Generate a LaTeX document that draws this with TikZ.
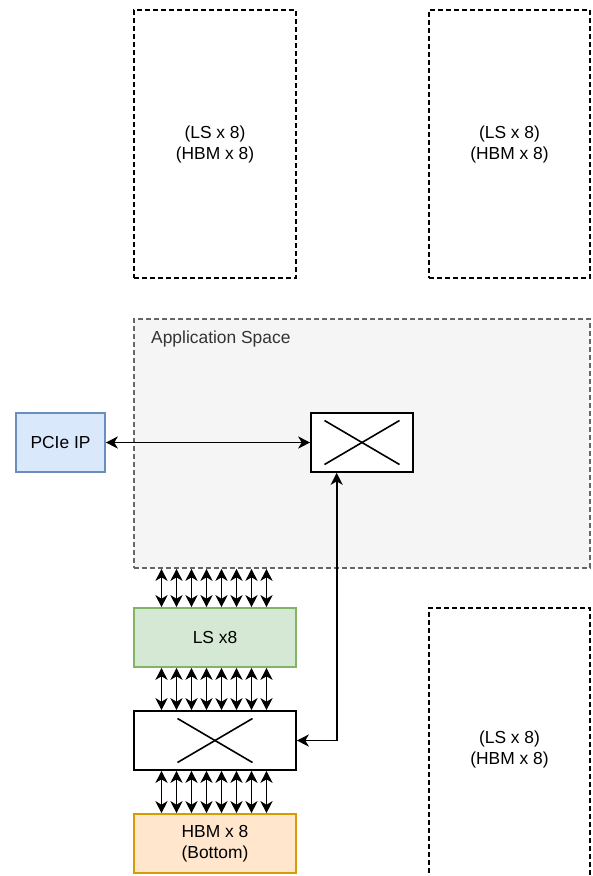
\documentclass[tikz,border=0pt]{standalone}
\usepackage{fontspec}
\setmainfont{Liberation Sans}
\usetikzlibrary{arrows.meta,calc}
\definecolor{appfill}{HTML}{F5F5F5}
\definecolor{appline}{HTML}{666666}
\definecolor{apptext}{HTML}{333333}
\definecolor{pciefill}{HTML}{DAE8FC}
\definecolor{pcieline}{HTML}{6C8EBF}
\definecolor{lsfill}{HTML}{D5E8D4}
\definecolor{lsline}{HTML}{82B366}
\definecolor{hbmfill}{HTML}{FFE6CC}
\definecolor{hbmline}{HTML}{D79B00}
\tikzset{
  box/.style={draw, line width=1.6pt, inner sep=0pt, align=center,
    font=\fontsize{17.4}{21}\selectfont},
  dashbox/.style={box, dash pattern=on 5pt off 3pt},
  biarrow/.style={line width=1.7pt,
    {Stealth[length=12pt,width=12pt,inset=3.5pt]}-{Stealth[length=12pt,width=12pt,inset=3.5pt]}},
  xline/.style={line width=1.6pt},
}
\begin{document}
\begin{tikzpicture}[x=1pt,y=-1pt]
\useasboundingbox (0,0) rectangle (593,876);
% dashed placeholder boxes
\node[dashbox, minimum width=162pt, minimum height=268pt] (tl) at (215,144) {(LS x 8)\\(HBM x 8)};
\node[dashbox, minimum width=161pt, minimum height=268pt] (tr) at (509.5,144) {(LS x 8)\\(HBM x 8)};
\node[dashbox, minimum width=161pt, minimum height=282pt] (br) at (509.5,749) {(LS x 8)\\(HBM x 8)};
% application space
\node[box, draw=appline, fill=appfill, dash pattern=on 5pt off 3pt,
  minimum width=456pt, minimum height=249pt] (app) at (362,443.5) {};
\node[anchor=base west, inner sep=0pt, text=apptext,
  font=\fontsize{17.4}{21}\selectfont] (applabel) at (151,343.5) {Application Space};
% solid boxes
\node[box, draw=pcieline, fill=pciefill, minimum width=89pt, minimum height=59pt] (pcie) at (60.5,442.5) {PCIe IP};
\node[box, fill=white, minimum width=102pt, minimum height=59pt] (xtop) at (362,442.5) {};
\node[box, draw=lsline, fill=lsfill, minimum width=162pt, minimum height=59pt] (ls) at (215,637.5) {LS x8};
\node[box, fill=white, minimum width=162pt, minimum height=59pt] (xbot) at (215,740.5) {};
\node[box, draw=hbmline, fill=hbmfill, minimum width=162pt, minimum height=59pt] (hbm) at (215,843.5) {HBM x 8\\(Bottom)};
% crossbar X marks
\draw[xline] ($(xtop.center)+(-37.5,-22)$) -- ($(xtop.center)+(37.5,22)$);
\draw[xline] ($(xtop.center)+(-37.5,22)$) -- ($(xtop.center)+(37.5,-22)$);
\draw[xline] ($(xbot.center)+(-37.5,-22)$) -- ($(xbot.center)+(37.5,22)$);
\draw[xline] ($(xbot.center)+(-37.5,22)$) -- ($(xbot.center)+(37.5,-22)$);
% bus arrows
\foreach \k in {0,...,7} {
  \pgfmathsetmacro\dx{28.3+15*\k}
  \draw[biarrow] ([xshift=\dx pt]ls.north west) -- ([xshift=\dx pt]ls.north west |- app.south);
  \draw[biarrow] ([xshift=\dx pt]ls.south west) -- ([xshift=\dx pt]xbot.north west);
  \draw[biarrow] ([xshift=\dx pt]xbot.south west) -- ([xshift=\dx pt]hbm.north west);
}
% other connectors
\draw[biarrow] (pcie.east) -- (xtop.west);
\draw[biarrow] ([xshift=-25.3pt]xtop.south) -- ([xshift=-25.3pt]xtop.south |- xbot.east) -- (xbot.east);
\end{tikzpicture}
\end{document}
